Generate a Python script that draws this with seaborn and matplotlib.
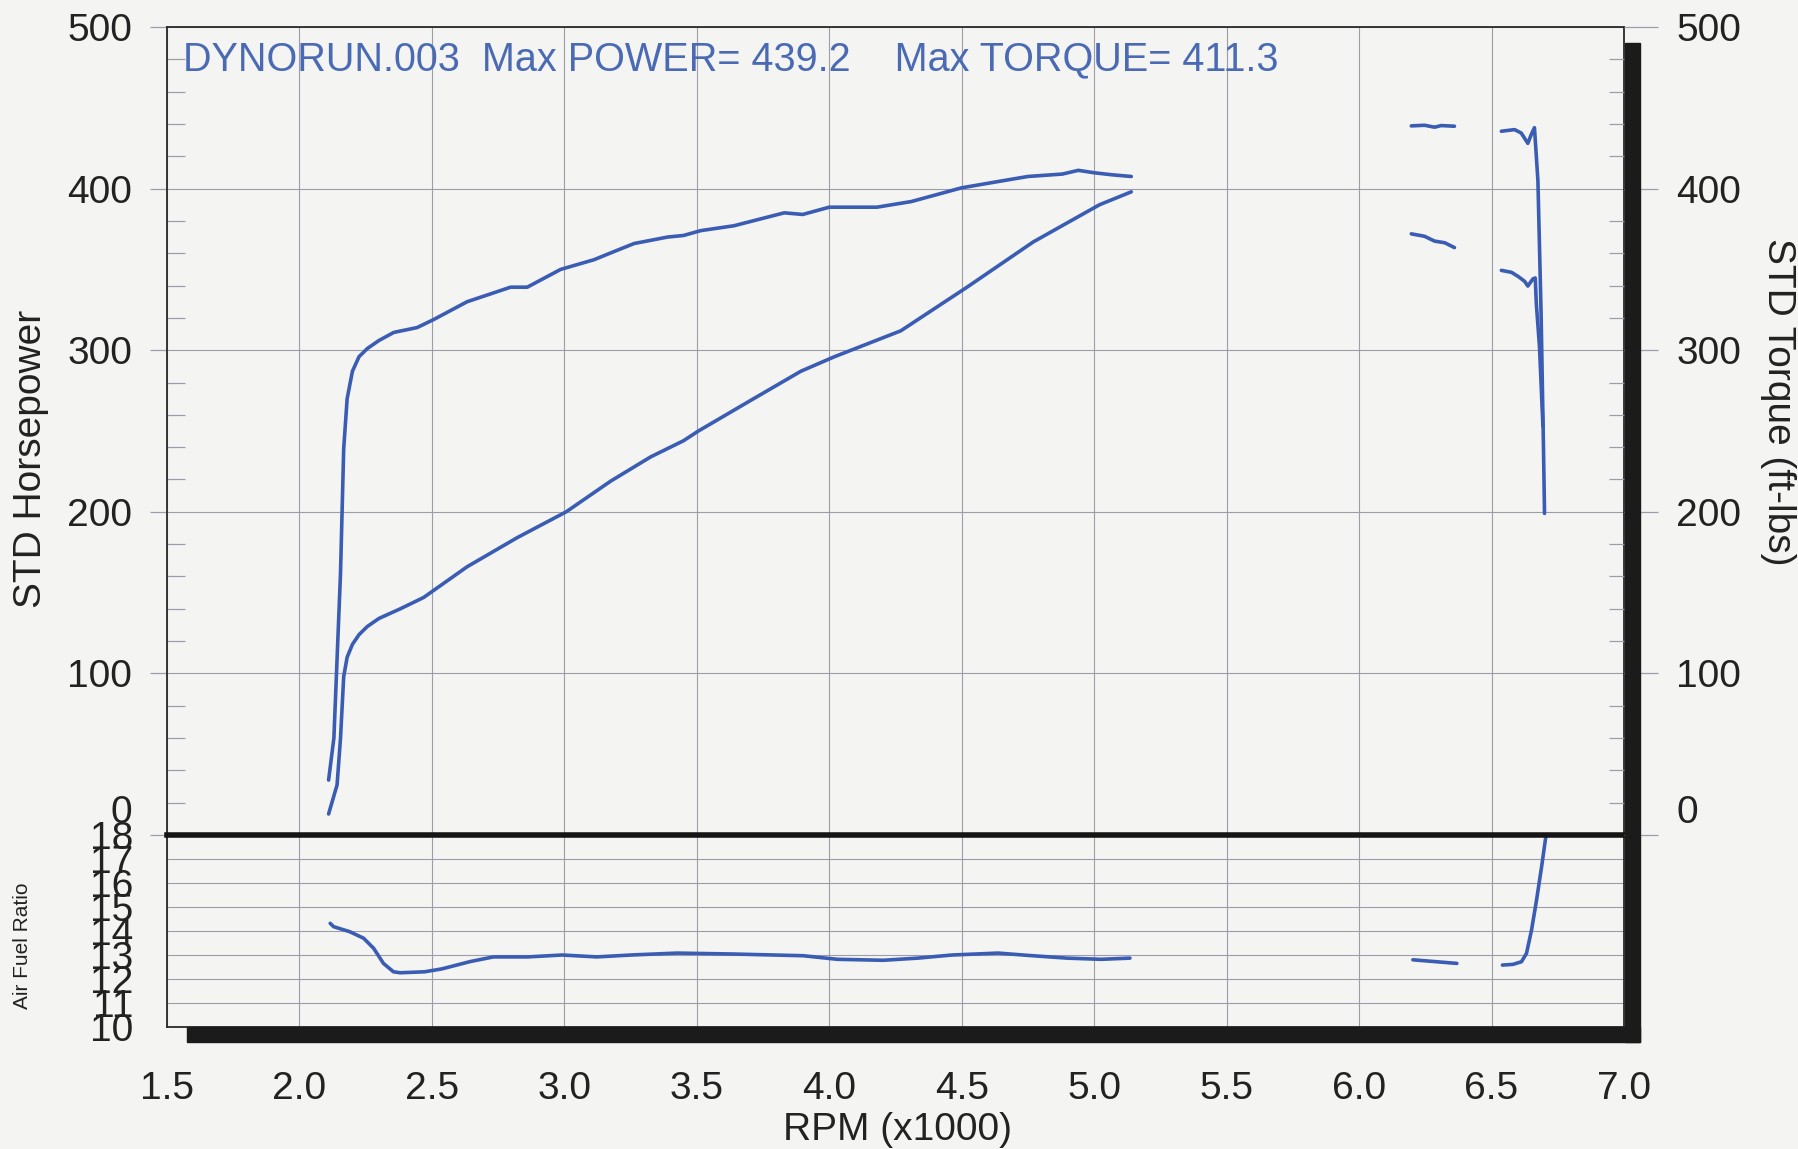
import pandas as pd
import seaborn as sns
import matplotlib.pyplot as plt
from matplotlib.patches import Rectangle
from matplotlib.ticker import MultipleLocator

# Data (rpm in x1000)

torque_rpm = [2.11, 2.13, 2.155, 2.167, 2.18, 2.2, 2.225, 2.256, 2.3, 2.356, 2.444, 2.507, 2.633,
              2.797, 2.86, 2.986, 3.112, 3.187, 3.263, 3.389, 3.45, 3.515, 3.64, 3.83,
              3.9, 4.0, 4.18, 4.31, 4.5, 4.66, 4.75, 4.88, 4.94, 5.0, 5.07, 5.14]
torque_val = [34, 60, 162, 239, 270, 287, 296, 301, 306, 311, 314, 319, 330,
              339, 339, 350, 356, 361, 366, 370, 371, 374, 377, 385,
              384, 388.5, 388.5, 392, 400.5, 405, 407.5, 409, 411.3, 409.8, 408.5, 407.5]

power_rpm = [2.11, 2.142, 2.155, 2.167, 2.18, 2.2, 2.225, 2.256, 2.3, 2.381, 2.469, 2.633, 2.822,
             3.007, 3.175, 3.326, 3.45, 3.506, 3.704, 3.893, 4.02, 4.27, 4.52, 4.77, 5.02, 5.14]
power_val = [13, 31, 60, 98, 110, 118, 124, 129, 134, 140, 147, 166, 184,
             200, 219, 234, 244, 250, 269, 287, 296, 312, 339, 367, 390, 398]

# short pieces on the right of the sheet
power_rpm_2 = [6.197, 6.247, 6.285, 6.31, 6.36]
power_val_2 = [438.8, 439.2, 438.0, 439.0, 438.6]
torque_rpm_2 = [6.197, 6.247, 6.285, 6.323, 6.36]
torque_val_2 = [372, 370.5, 367.5, 366.5, 363.5]

power_rpm_3 = [6.537, 6.587, 6.612, 6.637, 6.65, 6.662, 6.675, 6.687, 6.696, 6.70]
power_val_3 = [435.5, 436.5, 434.4, 428, 433.5, 437.7, 405, 323, 240, 199]
torque_rpm_3 = [6.537, 6.575, 6.60, 6.625, 6.637, 6.656, 6.665, 6.669, 6.681, 6.694]
torque_val_3 = [349.4, 348.2, 345.7, 342.6, 339.7, 344.1, 344.7, 329, 302, 253]

afr_rpm = [2.116, 2.129, 2.19, 2.242, 2.28, 2.317, 2.355, 2.38, 2.472, 2.537, 2.646,
           2.732, 2.862, 2.992, 3.122, 3.252, 3.425, 3.641, 3.901, 4.031, 4.204, 4.334,
           4.464, 4.637, 4.767, 4.897, 5.026, 5.135]
afr_val = [14.32, 14.18, 13.97, 13.7, 13.28, 12.65, 12.3, 12.26, 12.3, 12.42, 12.73,
           12.92, 12.92, 13.0, 12.92, 13.0, 13.08, 13.04, 12.97, 12.82, 12.78, 12.87,
           13.0, 13.08, 12.97, 12.87, 12.82, 12.87]
afr_rpm_2 = [6.203, 6.369]
afr_val_2 = [12.8, 12.65]
afr_rpm_3 = [6.541, 6.581, 6.613, 6.632, 6.651, 6.67, 6.689, 6.704, 6.71]
afr_val_3 = [12.58, 12.61, 12.72, 13.07, 14.04, 15.3, 16.68, 17.86, 18.3]

title_txt = "DYNORUN.003  Max POWER= 439.2    Max TORQUE= 411.3"
hp_ticks = [0, 100, 200, 300, 400, 500]
afr_ticks = list(range(10, 19))
rpm_ticks = [1.5, 2.0, 2.5, 3.0, 3.5, 4.0, 4.5, 5.0, 5.5, 6.0, 6.5, 7.0]


def build_df(parts):
    frames = []
    for i, (x, y) in enumerate(parts):
        frames.append(pd.DataFrame({'rpm': x, 'value': y, 'segment': i}))
    return pd.concat(frames, ignore_index=True)


main_df = build_df([(torque_rpm, torque_val), (power_rpm, power_val),
                    (power_rpm_2, power_val_2), (torque_rpm_2, torque_val_2),
                    (power_rpm_3, power_val_3), (torque_rpm_3, torque_val_3)])
afr_df = build_df([(afr_rpm, afr_val), (afr_rpm_2, afr_val_2), (afr_rpm_3, afr_val_3)])

sns.set_theme(style='white')
plt.rcParams['font.family'] = ['Liberation Sans', 'DejaVu Sans']

BG = '#f4f4f3'
LINE = '#3a5db3'
GRID = '#9d9daa'
TXT = '#222222'
W, H = 1799, 1149


def box(l, t, r, b):
    return [l / W, 1 - b / H, (r - l) / W, (b - t) / H]


fig = plt.figure(figsize=(W / 100, H / 100), dpi=100, facecolor=BG)
axf = fig.add_axes(box(167, 835, 1624, 1027))
ax = fig.add_axes(box(167, 27, 1624, 835))
for a in (ax, axf):
    a.set_facecolor(BG)

# main torque / power panel
sns.lineplot(data=main_df, x='rpm', y='value', units='segment', estimator=None,
             sort=False, color=LINE, lw=2.6, ax=ax, zorder=3)
ax.set_xlim(1.5, 7.0)
ax.set_ylim(0, 500)
ax.set_xticks(rpm_ticks)
ax.set_yticks(hp_ticks)
ax.set_yticklabels([''] + [str(t) for t in hp_ticks[1:]])
ax.yaxis.set_minor_locator(MultipleLocator(20))
ax.tick_params(axis='x', which='both', length=0, labelbottom=False)
ax.tick_params(axis='y', which='major', direction='out', length=12, width=0.9,
               color=GRID, labelsize=28, labelcolor=TXT, pad=13)
ax.tick_params(axis='y', which='minor', direction='in', length=13, width=0.9, color=GRID)
ax.grid(True, which='major', color=GRID, lw=0.8)
ax.set_xlabel('')
ax.set_ylabel('')
for s in ('left', 'top', 'right'):
    ax.spines[s].set_color('#2a2a2a')
    ax.spines[s].set_linewidth(1.3)
ax.spines['bottom'].set_color('#151515')
ax.spines['bottom'].set_linewidth(4)

ax2 = ax.twinx()
ax2.set_ylim(0, 500)
ax2.set_yticks(hp_ticks)
ax2.set_yticklabels([''] + [str(t) for t in hp_ticks[1:]])
ax2.yaxis.set_minor_locator(MultipleLocator(20))
ax2.tick_params(axis='y', which='major', direction='out', length=24.5, width=0.9,
                color=GRID, labelsize=28, labelcolor=TXT, pad=13)
ax2.tick_params(axis='y', which='minor', direction='in', length=11, width=0.9, color=GRID)
for s in ax2.spines.values():
    s.set_visible(False)

axf.set_zorder(0)
ax.set_zorder(1)
ax2.set_zorder(2)

# the zero labels sit a little above the thick line
ax.annotate('0', xy=(0, 0), xycoords=('axes fraction', 'data'), xytext=(-35, 22),
            textcoords='offset pixels', ha='right', va='center', fontsize=28, color=TXT)
ax2.annotate('0', xy=(1, 0), xycoords=('axes fraction', 'data'), xytext=(53, 22),
             textcoords='offset pixels', ha='left', va='center', fontsize=28, color=TXT)

ax.text(0.011, 0.984, title_txt, transform=ax.transAxes, ha='left', va='top',
        fontsize=28.5, color='#4a6ab4', zorder=4)

# air fuel ratio panel
sns.lineplot(data=afr_df, x='rpm', y='value', units='segment', estimator=None,
             sort=False, color=LINE, lw=2.6, ax=axf, zorder=3)
axf.set_xlim(1.5, 7.0)
axf.set_ylim(10, 18)
axf.set_xticks(rpm_ticks)
axf.set_xticklabels([f'{t:.1f}' for t in rpm_ticks])
axf.set_yticks(afr_ticks)
axf.xaxis.set_minor_locator(MultipleLocator(0.1))
axf.yaxis.set_minor_locator(MultipleLocator(0.2))
axf.tick_params(axis='x', which='major', direction='out', length=20, width=0.9,
                color=GRID, labelsize=28, labelcolor=TXT, pad=12)
axf.tick_params(axis='x', which='minor', direction='in', length=14, width=0.9, color=GRID)
axf.tick_params(axis='y', which='major', direction='out', length=11, width=0.9,
                color=GRID, labelsize=28, labelcolor=TXT, pad=13)
axf.tick_params(axis='y', which='minor', direction='in', length=12, width=0.7, color=GRID)
axf.grid(True, which='major', color=GRID, lw=0.8)
axf.set_xlabel('')
axf.set_ylabel('')
axf.spines['top'].set_visible(False)
for s in ('left', 'bottom', 'right'):
    axf.spines[s].set_color('#2a2a2a')
    axf.spines[s].set_linewidth(1.3)

# drop shadow frame
fig.add_artist(Rectangle((1625 / W, 1 - 1042 / H), 15 / W, (1042 - 43) / H,
                         transform=fig.transFigure, color='#1b1b1b', zorder=5))
fig.add_artist(Rectangle((187 / W, 1 - 1042 / H), (1640 - 187) / W, 15 / H,
                         transform=fig.transFigure, color='#1b1b1b', zorder=5))

fig.text(31 / W, 1 - 459 / H, 'STD Horsepower', rotation=90, ha='center', va='center',
         fontsize=28, color=TXT)
fig.text(1778 / W, 1 - 402 / H, 'STD Torque (ft-lbs)', rotation=270, ha='center',
         va='center', fontsize=28, color=TXT)
fig.text(23 / W, 1 - 946 / H, 'Air Fuel Ratio', rotation=90, ha='center', va='center',
         fontsize=15, color=TXT)
fig.text(898 / W, 1 - 1130 / H, 'RPM (x1000)', ha='center', va='center',
         fontsize=28, color=TXT)

fig.savefig('out.png', dpi=100, facecolor=BG)
